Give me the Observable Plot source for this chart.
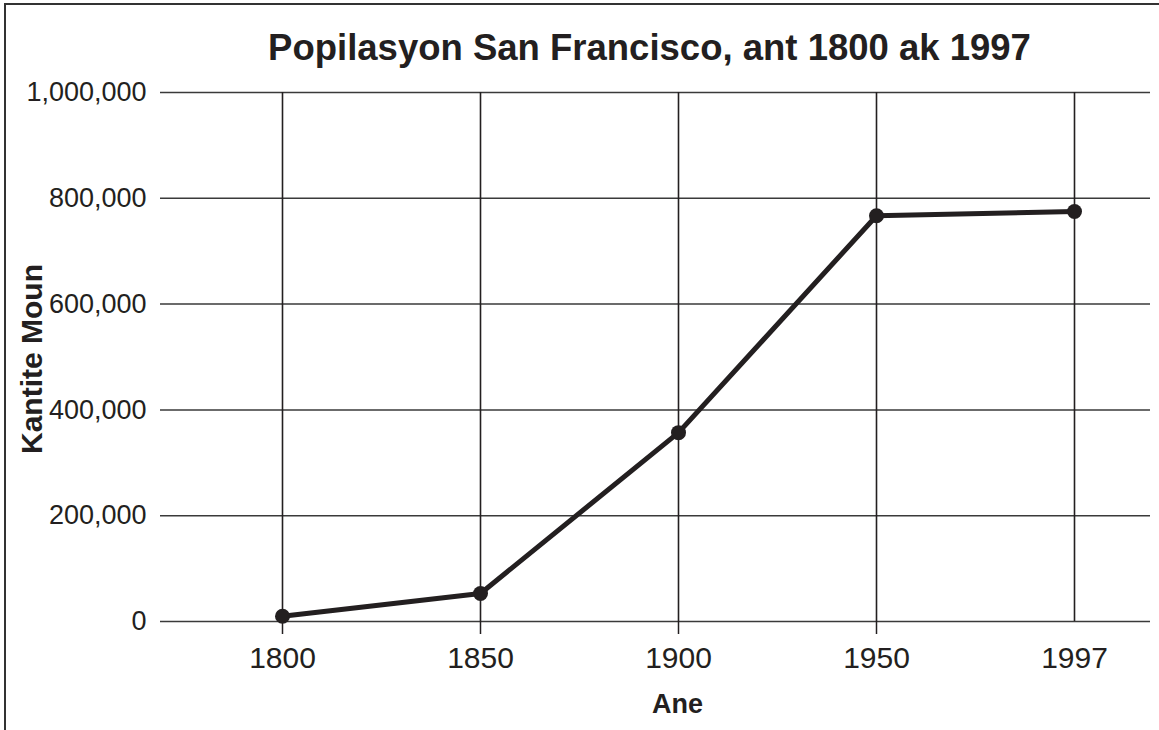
<!DOCTYPE html>
<html><head><meta charset="utf-8">
<script src="https://cdn.jsdelivr.net/npm/d3@7"></script>
<script src="https://cdn.jsdelivr.net/npm/@observablehq/plot@0.6"></script>
<style>
body{margin:0;background:#fff;}
#wrap{position:relative;width:1159px;height:730px;overflow:hidden;}
#frame{position:absolute;left:4px;top:3px;width:2000px;height:2000px;border-left:2.5px solid #333;border-top:2.5px solid #333;pointer-events:none;}
#wrap svg{position:absolute;left:0;top:0;}
</style></head><body><div id="wrap"><div id="frame"></div></div>
<script>
const years = ["1800", "1850", "1900", "1950", "1997"];
const population = [10000, 53000, 357000, 767000, 775000];
const yTicks = [0, 200000, 400000, 600000, 800000, 1000000];
const tickedYears = ["1800", "1850", "1900", "1950"];
const title = "Popilasyon San Francisco, ant 1800 ak 1997";
const xLabel = "Ane";
const yLabel = "Kantite Moun";

const data = years.map((y, i) => ({year: y, pop: population[i]}));
const ink = "#231f20";

const chart = Plot.plot({
  width: 1159, height: 730,
  marginLeft: 160, marginRight: 9, marginTop: 92, marginBottom: 109,
  style: {fontFamily: "'Liberation Sans', Arial, Helvetica, sans-serif", color: ink, background: "transparent"},
  x: {type: "point", domain: years, range: [282, 1074], padding: 0, label: null},
  y: {domain: [0, 1000000], label: null},
  marks: [
    Plot.ruleY(yTicks, {stroke: "#3a3a3a", strokeWidth: 1.5}),
    Plot.ruleX(years, {x: d => d, y1: 0, y2: 1000000, stroke: ink, strokeWidth: 1.6}),
    Plot.ruleY([1000000], {x1: years[0], x2: years[years.length - 1], stroke: ink, strokeWidth: 2.5}),
    Plot.axisY({ticks: yTicks, tickSize: 0, tickPadding: 14, tickFormat: d3.format(","), fontSize: 27, label: null}),
    Plot.axisX({ticks: tickedYears, tickSize: 13, tickFormat: () => "", label: null, strokeWidth: 1.5}),
    Plot.axisX({ticks: years, tickSize: 0, tickPadding: 25, fontSize: 30, label: null}),
    Plot.line(data, {x: "year", y: "pop", stroke: ink, strokeWidth: 5, strokeLinejoin: "round"}),
    Plot.dot(data, {x: "year", y: "pop", r: 7.5, fill: ink, stroke: "none"}),
    Plot.text([title], {frameAnchor: "top", dx: -6, dy: -58, fontSize: 36.5, fontWeight: "bold", fill: ink}),
    Plot.text([xLabel], {frameAnchor: "bottom", dx: 22, dy: 91, fontSize: 27, fontWeight: "bold", fill: ink}),
    Plot.text([yLabel], {frameAnchor: "left", textAnchor: "middle", dx: -128, dy: 2, rotate: -90, fontSize: 30, fontWeight: "bold", fill: ink})
  ]
});
document.getElementById("wrap").appendChild(chart);
</script>
</body></html>
